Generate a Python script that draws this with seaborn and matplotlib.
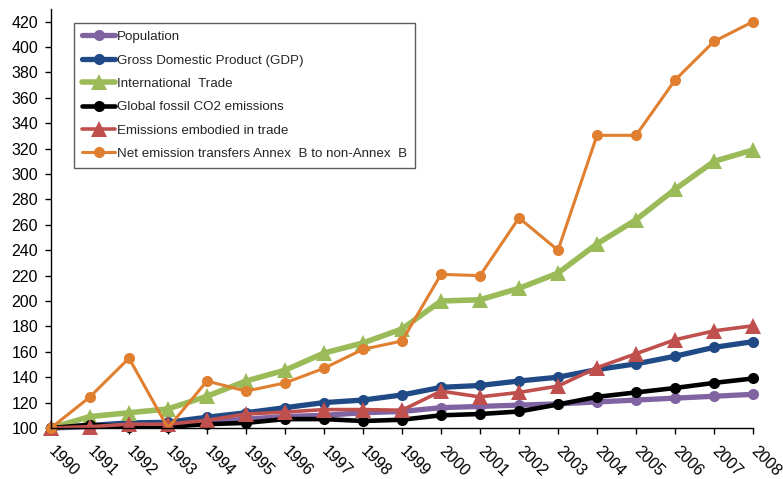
import numpy as np
import pandas as pd
import seaborn as sns
import matplotlib.pyplot as plt

years = list(range(1990, 2009))

population = [100, 101, 102, 103, 104.5, 107, 109, 110, 112, 113,
              116, 117, 118, 119, 120.5, 122, 123.5, 125, 126.5]
gdp = [100, 102, 104, 104.5, 108.5, 112, 116, 120, 122, 126,
       132, 133.5, 137, 140, 146, 150.5, 156.5, 163.5, 168]
trade = [100, 109, 112, 115, 125, 137, 145.5, 159, 167, 178,
         200, 201, 210, 222, 245, 264, 288, 310, 319]
co2 = [100, 102.5, 101, 101, 103, 104, 107, 107, 105.5, 106.5,
       110, 111, 113, 118.5, 124.5, 128, 131.5, 135.5, 139]
embodied = [100, 101, 103, 103, 106, 111, 112.5, 114.5, 114.5, 114,
            129, 124.5, 128, 133, 147.5, 158.5, 169.5, 176.5, 180.5]
net_transfers = [100, 124.5, 155, 100, 137, 129, 135.5, 147, 162, 168.5,
                 221, 220, 265.5, 240, 330.5, 330.5, 374, 404.5, 420]

series = [
    ("Population", population, "#8064A2", "o", 3.8, 8),
    ("Gross Domestic Product (GDP)", gdp, "#1F4A85", "o", 3.8, 8),
    ("International  Trade", trade, "#9BBB59", "^", 4.0, 11),
    ("Global fossil CO2 emissions", co2, "black", "o", 3.3, 8),
    ("Emissions embodied in trade", embodied, "#C0504D", "^", 2.6, 11),
    ("Net emission transfers Annex  B to non-Annex  B", net_transfers, "#E07F2F", "o", 2.2, 8),
]

sns.set_style("ticks")
plt.rcParams["font.family"] = ["Liberation Sans", "DejaVu Sans"]

fig = plt.figure(figsize=(7.83, 4.79), dpi=100)
ax = fig.add_axes([0.0651, 0.1065, 0.8966, 0.8747])

for label, vals, color, marker, lw, ms in series:
    df = pd.DataFrame({"year": years, "value": vals})
    # the orange point sitting on the axis in 1993 shows no marker in the original
    mev = [i for i in range(len(years)) if i != 3] if label.startswith("Net") else None
    sns.lineplot(data=df, x="year", y="value", ax=ax, color=color, marker=marker,
                 linewidth=lw, markersize=ms, markeredgewidth=0, label=label,
                 markevery=mev, clip_on=False)

ax.set_xlim(1990, 2008)
ax.set_ylim(100, 430)
ax.set_xticks(years)
ax.set_yticks(np.arange(100, 421, 20))
ax.set_xlabel("")
ax.set_ylabel("")
sns.despine(ax=ax)
for s in ["left", "bottom"]:
    ax.spines[s].set_linewidth(1.0)
    ax.spines[s].set_color("black")

ax.tick_params(axis="both", direction="out", length=4.3, width=1, color="black",
               labelsize=11.5, labelcolor="black")
ax.tick_params(axis="y", pad=5)
for t in ax.get_xticklabels():
    t.set_rotation(-45)
    t.set_ha("left")
    t.set_va("center")
    t.set_rotation_mode("anchor")
ax.tick_params(axis="x", pad=11)

leg = ax.legend(loc="upper left", bbox_to_anchor=(0.033, 0.967), fontsize=9.6,
                frameon=True, fancybox=False, handlelength=2.5, handletextpad=0.1,
                labelspacing=0.83, borderpad=0.6, borderaxespad=0)
leg.get_frame().set_edgecolor("#333333")
leg.get_frame().set_linewidth(1.0)

fig.savefig("out.png", dpi=100)
